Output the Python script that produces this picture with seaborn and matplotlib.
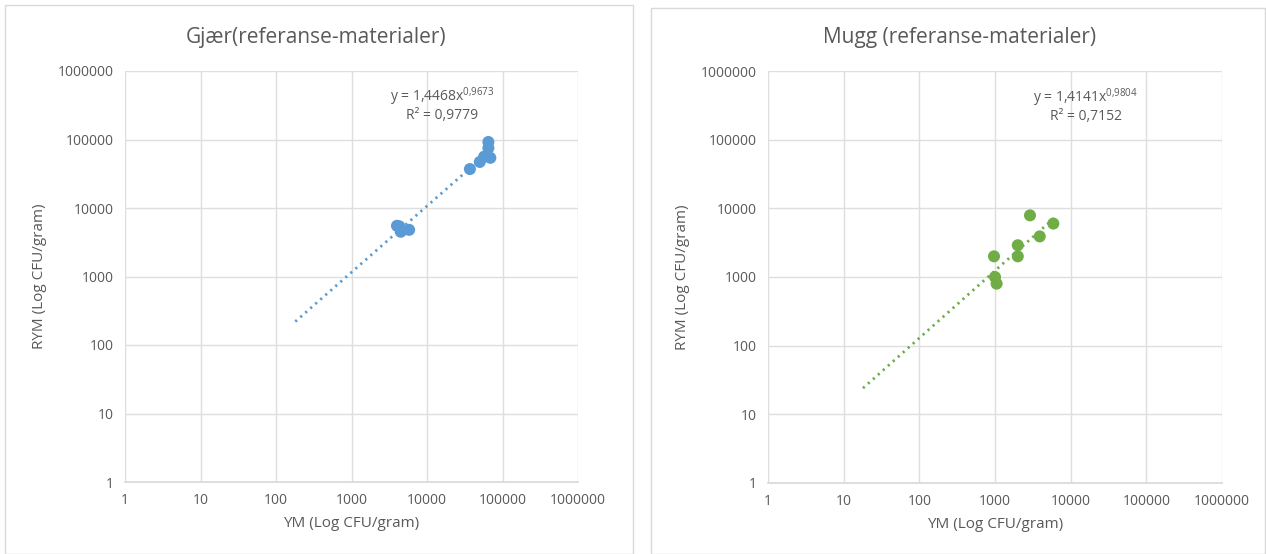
import numpy as np
import pandas as pd
import seaborn as sns
import matplotlib.pyplot as plt
from matplotlib.patches import Rectangle
from matplotlib.ticker import FixedLocator, FuncFormatter

# data
gjaer_ym = [4000, 4300, 4500, 5800, 37000, 50000, 57000, 69000, 65000, 65000]
gjaer_rym = [5500, 5400, 4500, 4800, 37000, 47000, 56000, 54000, 75000, 92000]
gjaer_coef = (1.4468, 0.9673)
gjaer_r2 = 0.9779
gjaer_trend = (180, 69000)

mugg_ym = [970, 1000, 1050, 2000, 2000, 2900, 3900, 5900]
mugg_rym = [2000, 1000, 800, 2000, 2900, 7900, 3900, 6000]
mugg_coef = (1.4141, 0.9804)
mugg_r2 = 0.7152
mugg_trend = (18, 6500)

ticks = [1, 10, 100, 1000, 10000, 100000, 1000000]

sns.set_theme(style="white")
plt.rcParams['font.family'] = ['Open Sans', 'DejaVu Sans']
plt.rcParams['mathtext.fontset'] = 'custom'
plt.rcParams['mathtext.rm'] = 'Open Sans'
plt.rcParams['mathtext.it'] = 'Open Sans'
txt = '#595959'

fig = plt.figure(figsize=(12.66, 5.54), dpi=100)

# chart area borders
fig.add_artist(Rectangle((5 / 1266, 0), 628 / 1266, 549 / 554, transform=fig.transFigure,
                         fill=False, edgecolor='#d9d9d9', lw=1))
fig.add_artist(Rectangle((651 / 1266, 0), 614 / 1266, 546 / 554, transform=fig.transFigure,
                         fill=False, edgecolor='#d9d9d9', lw=1))


def panel(rect, xs, ys, coef, r2, trend, color, title, title_x, eq_xy):
    ax = fig.add_axes(rect)
    ax.set_xscale('log')
    ax.set_yscale('log')
    df = pd.DataFrame({'ym': xs, 'rym': ys})
    a, b = coef
    tx = np.geomspace(trend[0], trend[1], 50)
    sns.lineplot(x=tx, y=a * tx ** b, ax=ax, color=color, lw=2,
                 linestyle=(0, (0.8, 1.6)), zorder=2)
    sns.scatterplot(data=df, x='ym', y='rym', ax=ax, color=color, s=75,
                    edgecolor='none', zorder=3)
    ax.set_xlim(1, 1e6)
    ax.set_ylim(1, 1e6)
    for axis in (ax.xaxis, ax.yaxis):
        axis.set_major_locator(FixedLocator(ticks))
        axis.set_major_formatter(FuncFormatter(lambda v, p: f"{int(round(v))}"))
        axis.set_minor_locator(FixedLocator([]))
    ax.tick_params(length=0, labelsize=10, labelcolor=txt, pad=8)
    ax.grid(True, color='#dedede', lw=1)
    for s in ['top', 'right', 'left']:
        ax.spines[s].set_visible(False)
    ax.spines['bottom'].set_color('#d9d9d9')
    ax.set_xlabel('YM (Log CFU/gram)', color=txt, fontsize=11, labelpad=6)
    ax.set_ylabel('RYM (Log CFU/gram)', color=txt, fontsize=11, labelpad=8)
    fig.text(title_x, 1 - 38 / 554, title, ha='center', va='center', fontsize=15, color=txt)
    exp = f"{b:.4f}".replace('.', '{,}')
    ax.text(eq_xy[0], eq_xy[1], f"y = {a:.4f}".replace('.', ',') + f"x$^{{{exp}}}$",
            transform=ax.transAxes, ha='center', va='center', fontsize=10, color=txt)
    ax.text(eq_xy[0], eq_xy[1] - 0.045, f"R² = {r2:.4f}".replace('.', ','),
            transform=ax.transAxes, ha='center', va='center', fontsize=10, color=txt)
    return ax


panel([125 / 1266, 72 / 554, 453 / 1266, 411 / 554], gjaer_ym, gjaer_rym, gjaer_coef,
      gjaer_r2, gjaer_trend, '#5b9bd5', 'Gjær(referanse-materialer)', 316 / 1266,
      (0.70, 0.937))
panel([768 / 1266, 71 / 554, 454 / 1266, 412 / 554], mugg_ym, mugg_rym, mugg_coef,
      mugg_r2, mugg_trend, '#70ad47', 'Mugg (referanse-materialer)', 960 / 1266,
      (0.70, 0.935))

fig.savefig('out.png', dpi=100)
